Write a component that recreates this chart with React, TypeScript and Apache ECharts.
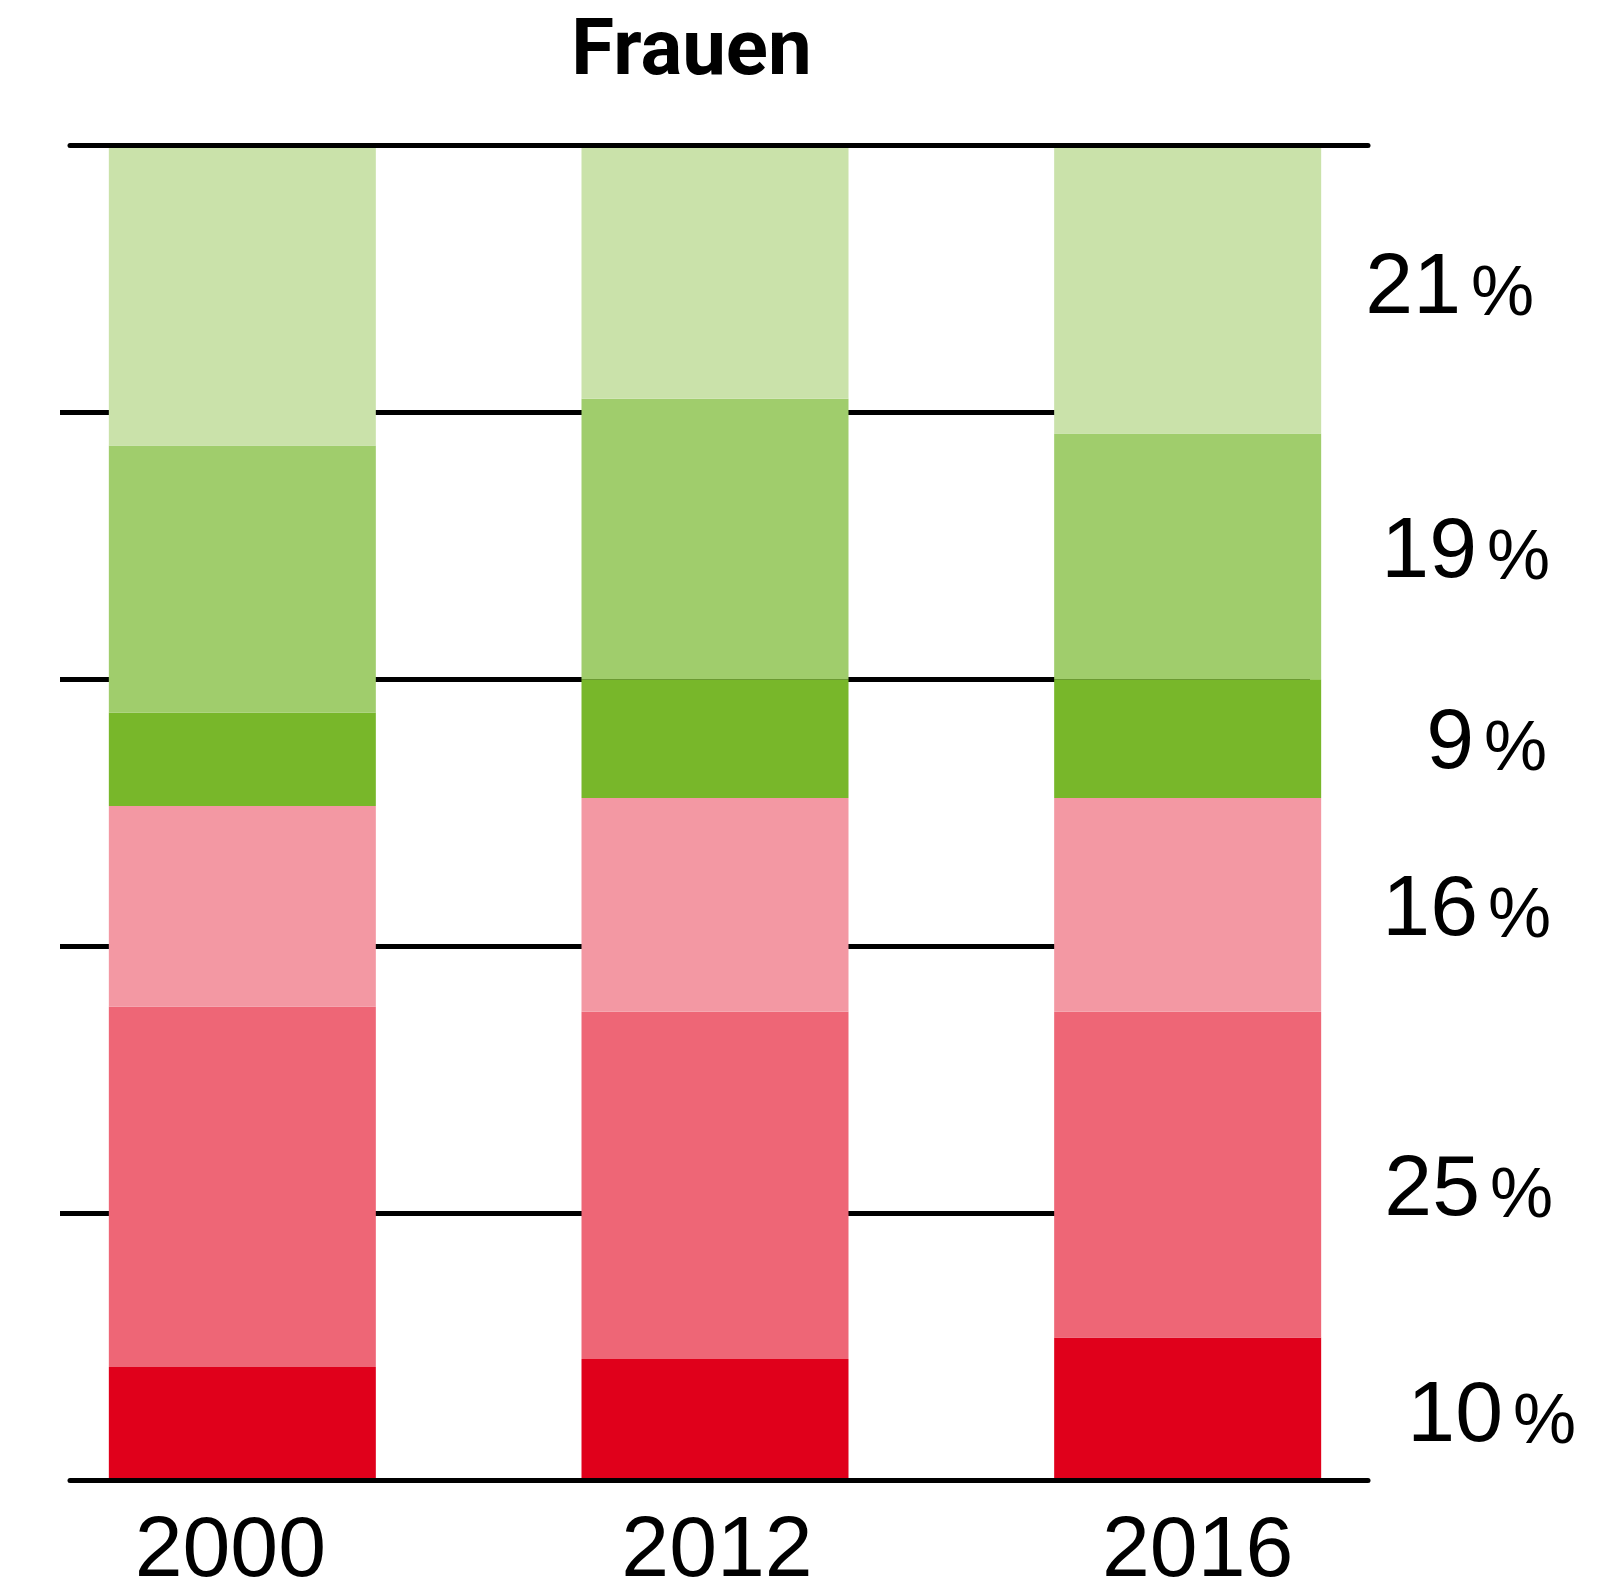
import React, { useEffect, useRef } from "react";
import * as echarts from "echarts";

const categories = ["2000", "2012", "2016"];
const seriesNames = ["Stufe 1", "Stufe 2", "Stufe 3", "Stufe 4", "Stufe 5", "Stufe 6"];
const colors = ["#E0001B", "#EE6676", "#F398A3", "#78B72A", "#A0CD6C", "#CAE2AA"];
// bottom to top
const red = [8.5, 9.1, 10.7];
const darkPink = [27.0, 26.0, 24.4];
const lightPink = [15.0, 16.0, 16.0];
const darkGreen = [7.0, 8.9, 8.9];
const midGreen = [20.0, 21.0, 18.4];
const lightGreen = [22.5, 19.0, 21.6];
const values = [red, darkPink, lightPink, darkGreen, midGreen, lightGreen];
const labels2016 = ["10", "25", "16", "9", "19", "21"];
const yTicks = [0, 20, 40, 60, 80, 100];

const FONT = "'Liberation Sans', Arial, sans-serif";
const labelDx = [522, 499, 497, 493, 496, 480];
const labelDy = [2, 10, 0, -1, -9, -6];
const catPad = [
  [0, 24, 0, 0],
  [0, 0, 0, 4],
  [0, 0, 0, 20],
];

export default function App() {
  const ref = useRef<HTMLDivElement>(null);
  useEffect(() => {
    if (!ref.current) return;
    const chart = echarts.init(ref.current, null, { renderer: "svg" });
    const series = values.map((vals, s) => ({
      name: seriesNames[s],
      type: "bar",
      stack: "total",
      xAxisIndex: 0,
      yAxisIndex: 0,
      barWidth: 267,
      itemStyle: { color: colors[s] },
      data: vals.map((v, i) =>
        i === categories.length - 1
          ? {
              value: v,
              label: {
                show: true,
                position: [labelDx[s], "50%"],
                offset: [0, labelDy[s]],
                align: "right",
                verticalAlign: "middle",
                formatter: () => `{n|${labels2016[s]}}{p|%}`,
                rich: {
                  n: { fontSize: 86, fontFamily: FONT, color: "#000", verticalAlign: "bottom" },
                  p: { fontSize: 71, fontFamily: FONT, color: "#000", padding: [0, 0, 0, 10], verticalAlign: "bottom" },
                },
              },
            }
          : v
      ),
    }));
    const frameAxis = (position: string) => ({
      gridIndex: 2,
      type: "value",
      min: 0,
      max: 1,
      position,
      z: 10,
      axisLine: { show: true, onZero: false, lineStyle: { color: "#000", width: 5 } },
      axisTick: { show: false },
      axisLabel: { show: false },
      splitLine: { show: false },
    });
    chart.setOption({
      animation: false,
      grid: [
        { left: 6, right: 186, top: 145, bottom: 112.5 },
        { left: 60, right: 300, top: 145, bottom: 112.5 },
        { left: 70, right: 242, top: 145, bottom: 112.5 },
      ],
      xAxis: [
        {
          gridIndex: 0,
          type: "category",
          data: categories.map((c, i) => ({ value: c, textStyle: { padding: catPad[i] } })),
          axisLine: { show: false },
          axisTick: { show: false },
          axisLabel: { fontSize: 86, lineHeight: 70, fontFamily: FONT, color: "#000", margin: 30 },
        },
        { gridIndex: 1, type: "value", min: 0, max: 1, show: false },
        frameAxis("bottom"),
        frameAxis("top"),
      ],
      yAxis: [
        { gridIndex: 0, type: "value", min: yTicks[0], max: yTicks[yTicks.length - 1], show: false },
        {
          gridIndex: 1,
          type: "value",
          min: yTicks[0],
          max: yTicks[yTicks.length - 1],
          interval: yTicks[1] - yTicks[0],
          axisLine: { show: false },
          axisTick: { show: false },
          axisLabel: { show: false },
          splitLine: {
            show: true,
            showMinLine: false,
            showMaxLine: false,
            lineStyle: { color: "#000", width: 5 },
          },
        },
        { gridIndex: 2, type: "value", min: 0, max: 1, show: false },
      ],
      graphic: [
        {
          type: "text",
          x: 691.5,
          y: 47,
          style: {
            text: "Frauen",
            fontSize: 78,
            fontWeight: "bold",
            fontFamily: "Roboto, sans-serif",
            fill: "#000",
            align: "center",
            verticalAlign: "middle",
          },
        },
      ],
      series,
    });
    return () => chart.dispose();
  }, []);
  return (
    <div
      ref={ref}
      style={{ position: "absolute", left: 0, top: 0, width: 1610, height: 1593, background: "#fff" }}
    />
  );
}
